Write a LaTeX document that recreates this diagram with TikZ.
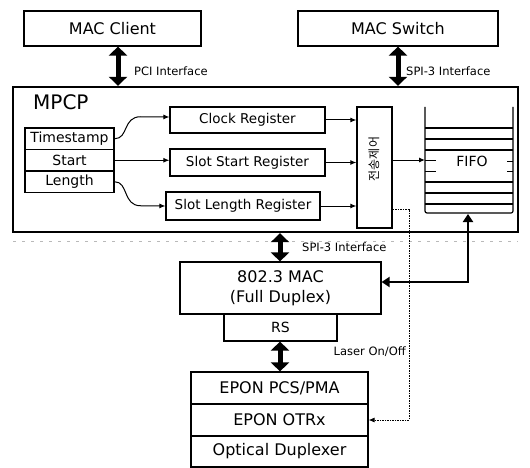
\documentclass[tikz,border=0pt]{standalone}
\usepackage{fontspec}
\setmainfont{DejaVu Sans}
\newfontfamily\krfont{Noto Sans CJK KR}
\usetikzlibrary{arrows.meta,calc}

\begin{document}
\begin{tikzpicture}[x=1pt,y=-1pt,
  box/.style={draw, line width=1.2pt, inner sep=0pt},
  bigtxt/.style={font=\fontsize{16}{19}\selectfont},
  midtxt/.style={font=\fontsize{14}{17}\selectfont},
  regtxt/.style={font=\fontsize{13.5}{16}\selectfont},
  smalltxt/.style={font=\fontsize{11.5}{13}\selectfont, inner sep=0pt},
  thin arrow/.style={line width=1pt, -{Latex[length=6pt,width=5pt]}},
  bus/.style={line width=5pt, {Triangle[width=18pt,length=9pt]}-{Triangle[width=18pt,length=9pt]}},
  link/.style={line width=2.5pt, {Triangle[width=10pt,length=8pt]}-{Triangle[width=10pt,length=8pt]}},
  ctrlline/.style={line width=0.8pt, dash pattern=on 1.5pt off 1pt, -{Latex[length=6pt,width=5pt]}}
]
\useasboundingbox (0,0) rectangle (530,468);

% upper blocks
\node[box, bigtxt, minimum width=177pt, minimum height=35pt] (client) at (112.5,28.5) {MAC Client};
\node[box, bigtxt, minimum width=200pt, minimum height=35pt] (switch) at (398,28.5) {MAC Switch};

% MPCP frame
\node[draw, line width=2.4pt, inner sep=0pt, minimum width=505pt, minimum height=145pt] (mpcp) at (265.5,159.5) {};
\node[anchor=west, inner sep=0pt, font=\fontsize{20}{24}\selectfont] (mpcplbl) at (33,102) {MPCP};

% interfaces to the upper blocks
\coordinate (pciX) at (118,0);
\coordinate (spiX) at (398,0);
\draw[bus] (pciX |- client.south) -- (pciX |- mpcp.north);
\draw[bus] (spiX |- switch.south) -- (spiX |- mpcp.north);
\node[smalltxt, anchor=west] (pcilbl) at (134,71) {PCI Interface};
\node[smalltxt, anchor=west] (spilbl) at (406,71) {SPI-3 Interface};

% frame fields
\node[box, midtxt, minimum width=89pt, minimum height=21.5pt] (ts) at (69.5,138.75) {Timestamp};
\node[box, midtxt, minimum width=89pt, minimum height=21.5pt] (st) at (69.5,160.25) {Start};
\node[box, midtxt, minimum width=89pt, minimum height=21.5pt] (len) at (69.5,181.75) {Length};

% registers
\node[box, regtxt, minimum width=155pt, minimum height=26pt] (clk) at (247.5,120) {Clock Register};
\node[box, regtxt, minimum width=155pt, minimum height=27pt] (sst) at (247.5,162.5) {Slot Start Register};
\node[box, regtxt, minimum width=154pt, minimum height=28pt] (sln) at (243,206) {Slot Length Register};

\draw[thin arrow] (ts.east) .. controls +(14,0) and +(-18,0) .. ++(26,-22) -- ([yshift=3pt]clk.west);
\draw[thin arrow] (st.east) -- (st.east -| sst.west);
\draw[thin arrow] (len.east) .. controls +(14,0) and +(-18,0) .. ++(26,24) -- (sln.west);

% transmission control
\node[box, minimum width=35pt, minimum height=121pt] (ctrl) at (374.5,167.5) {};
\node[rotate=90, inner sep=0pt, font=\krfont\fontsize{12}{14}\selectfont] (ctrltxt) at (374,159) {전송제어};

\draw[thin arrow] (clk.east) -- (clk.east -| ctrl.west);
\draw[thin arrow] (sst.east) -- (sst.east -| ctrl.west);
\draw[thin arrow] (sln.east) -- (sln.east -| ctrl.west);

% FIFO
\draw[line width=1.2pt, rounded corners=2pt] (425,107) -- (425,213) -- (513,213) -- (513,107);
\foreach \yy in {128,139,150,182,193,204}
  \draw[line width=1.2pt] (425,\yy) -- (513,\yy);
\draw[line width=1pt] (425,160) -- (436,160) (425,171) -- (436,171)
                      (507,161) -- (513,161) (507,171) -- (513,171);
\node[midtxt] (fifo) at (472,161) {FIFO};
\coordinate (fifoL) at (425,160);
\coordinate (fifoB) at (468,214);
\draw[thin arrow] (fifoL -| ctrl.east) -- (fifoL);

% faint boundary under MPCP
\draw[gray!55, line width=0.8pt, dash pattern=on 3pt off 6pt] (13,241) -- (518,241);

% lower stack
\node[box, bigtxt, minimum width=201pt, minimum height=52pt, align=center] (mac) at (280.5,288) {802.3 MAC\\[1pt](Full Duplex)};
\node[box, midtxt, minimum width=113pt, minimum height=27pt] (rs) at (280.5,327.5) {RS};
\node[box, bigtxt, minimum width=177pt, minimum height=32pt] (pcs) at (279.5,388) {EPON PCS/PMA};
\node[box, bigtxt, minimum width=177pt, minimum height=32pt] (otrx) at (279.5,420) {EPON OTRx};
\node[box, bigtxt, minimum width=177pt, minimum height=31pt] (dup) at (279.5,451.5) {Optical Duplexer};

\coordinate (macX) at (280,0);
\draw[bus] (macX |- mpcp.south) -- (macX |- mac.north);
\node[smalltxt, anchor=west] (spilbl2) at (302,247) {SPI-3 Interface};
\draw[bus] (macX |- rs.south) -- (macX |- pcs.north);

\draw[link] (fifoB) |- ([yshift=6pt]mac.east);

% laser control
\coordinate (laser) at (409,300);
\draw[ctrlline] ([yshift=-41.5pt]ctrl.east) -| (laser) |- (otrx.east);
\node[smalltxt, anchor=east] (laserlbl) at (406,352) {Laser On/Off};

\end{tikzpicture}
\end{document}
